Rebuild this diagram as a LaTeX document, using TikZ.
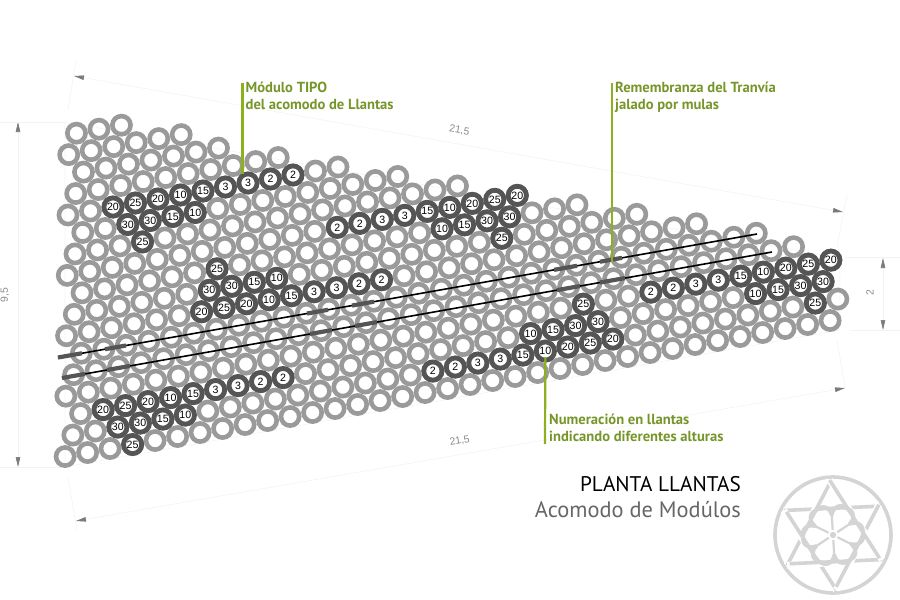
\documentclass[tikz,border=0pt]{standalone}
\usepackage{fontspec}
\setmainfont{Liberation Sans}
\newfontfamily\notafont{PT Sans}
\usetikzlibrary{positioning,arrows.meta}
\definecolor{llantagris}{HTML}{9A9A9A}
\definecolor{llantaosc}{HTML}{555555}
\definecolor{verde}{HTML}{76962A}
\definecolor{verdelinea}{HTML}{8DB01E}
\definecolor{cotalinea}{HTML}{F3F3F3}
\definecolor{cotatip}{HTML}{7A7A7A}
\definecolor{cotatxt}{HTML}{8A8A8A}
\definecolor{logogris}{HTML}{D4D4D4}

\begin{document}
\begin{tikzpicture}[x=1pt,y=-1pt,
    llanta/.style={circle,draw=llantagris,line width=4.6pt,minimum size=18.2pt,inner sep=0pt,outer sep=0pt},
    modulo/.style={llanta,draw=llantaosc,line width=4.8pt,minimum size=18.2pt,fill=white,font=\fontsize{10.6}{11}\selectfont},
    cota/.style={draw=cotalinea,line width=0.6pt,{Stealth[length=10pt,width=4.5pt,inset=0pt,color=cotatip]}-{Stealth[length=10pt,width=4.5pt,inset=0pt,color=cotatip]}},
    guia/.style={draw=cotalinea,line width=0.6pt},
    cotanum/.style={text=cotatxt,font=\fontsize{10.4}{11}\selectfont,inner sep=0pt},
    lider/.style={draw=verdelinea,line width=2.2pt},
    nota/.style={text=verde,font=\notafont\bfseries\fontsize{14.6}{17.5}\selectfont,align=left,inner sep=0pt,anchor=north west},
    barra/.style={draw=llantaosc,line width=4.2pt},
    eje/.style={draw=black,line width=1.6pt},
    logo/.style={draw=logogris,line width=3.6pt}]
  \useasboundingbox (0,0) rectangle (900,600);

  \coordinate (esqA) at (65,122);
  \coordinate (esqB) at (840,258);
  \coordinate (esqC) at (840,330);
  \coordinate (esqD) at (65,467);
  \draw[guia] (esqA) -- (esqB) -- (esqC) -- (esqD) -- cycle;

  \draw[cota] (74,76)   -- node[pos=.5,cotanum,rotate=-10,above=9pt] (largoA) {21,5} (843,212);
  \draw[cota] (76,521)  -- node[pos=.5,cotanum,rotate=10,above=9pt]  (largoB) {21,5} (845,388);
  \draw[cota] (18,122)  -- (18,467);
  \draw[cota] (883,258) -- (883,330);
  \node[cotanum,rotate=90] (ancho) at (5,295)   {9,5};
  \node[cotanum,rotate=90] (paso)  at (870,293) {2};
  \draw[guia] (76,60)  -- (68,110);
  \draw[guia] (847,195) -- (837,247);
  \draw[guia] (68,477) -- (77,530);
  \draw[guia] (837,340) -- (845,387);
  \draw[guia] (0,122)  -- (esqA);
  \draw[guia] (0,467)  -- (esqD);
  \draw[guia] (845,257) -- (900,257);
  \draw[guia] (850,330) -- (900,330);

  \begin{scope}[shift={(113pt,-207pt)},x={(22.5pt,4pt)},y={(14.76pt,-17.46pt)}]
    \foreach \j/\a/\b in {-4/1/3,-3/0/5,-2/0/6,-1/-1/8,0/-2/10,1/-2/12,2/-3/14,3/-4/16,4/-4/18,
                          5/-5/20,6/-6/22,7/-6/24,8/-7/25,9/-8/26,10/-8/25,11/-9/25,12/-10/24}
      \foreach \i in {\a,...,\b}
        \node[llanta] (l-\j-\i) at (\i,\j) {};
    \foreach \j/\a/\nums in {0/0/{20,25,20,10,15,3,3,2,2},   1/0/{30,30,15,10},  2/0/{25},
                             3/8/{2,2,3,3,15,10,20,25,20},   4/12/{10,15,30,30}, 5/14/{25},
                             6/0/{20,25,20,10,15,3,3,2,2},   5/1/{30,30,15,10},  4/2/{25},
                             10/-7/{20,25,20,10,15,3,3,2,2}, 11/-7/{30,30,15,10},12/-7/{25},
                             11/7/{2,2,3,3,15,10,20,25,20},  10/12/{10,15,30,30},9/15/{25},
                             9/18/{2,2,3,3,15,10,20,25,20},  10/22/{10,15,30,30},11/24/{25}}
      \foreach \t [count=\i from \a] in \nums
        \node[modulo] (m-\j-\i) at (\i,\j) {\t};
  \end{scope}

  \coordinate (supA) at (58,357.5);
  \coordinate (supB) at (757,234);
  \coordinate (infA) at (62,378);
  \coordinate (infB) at (772,252);
  \draw[eje] (supA) -- (supB);
  \draw[eje] (infA) -- (infB);
  \foreach \ini/\fin in {58/82,105/126,307/328,352/374,554/577,600/622}
    \draw[barra] (\ini,{357.5-(\ini-58)*0.1767}) -- (\fin,{357.5-(\fin-58)*0.1767});
  \foreach \ini/\fin in {62/85,107/130,310/332,355/377,557/580,600/625}
    \draw[barra] (\ini,{378-(\ini-62)*0.1775}) -- (\fin,{378-(\fin-62)*0.1775});

  \coordinate (tipo)    at (242.5,83);
  \coordinate (tranvia) at (612,83);
  \coordinate (tranviafin) at (612,262);
  \coordinate (numer)   at (545,444);
  \node[nota] (tipotxt)    at (245.5,81.5)  {Módulo TIPO\\del acomodo de Llantas};
  \node[nota] (tranviatxt) at (615,81.5)  {Remembranza del Tranvía\\jalado por mulas};
  \node[nota] (numertxt)   at (549,413.5) {Numeración en llantas\\indicando diferentes alturas};
  \draw[lider] (tipo) -- (tipo |- m-0-6.north);
  \draw[lider] (tranvia) -- (tranviafin);
  \draw[lider] (numer) -- ([yshift=-6pt]m-11-12.center);

  \node[anchor=east,inner sep=0pt,font=\notafont\fontsize{21.2}{22}\selectfont] (titulo) at (741,484) {PLANTA LLANTAS};
  \node[anchor=east,inner sep=0pt,text=llantaosc!90!white,font=\notafont\fontsize{22.4}{24}\selectfont] (subtitulo) at (741,510) {Acomodo de Modúlos};

  \coordinate (sello) at (833,535);
  \draw[logo] (sello) circle (58);
  \begin{scope}[shift={(sello)}]
    \foreach \ang in {0,60,...,300} {
      \draw[white,line width=7pt] (-33.5-\ang:55) -- (-153.5-\ang:55);
      \draw[logo] (-33.5-\ang:52) -- (-153.5-\ang:55);
    }
    \foreach \ang in {0,60,...,300} {
      \begin{scope}[rotate=\ang+3.5]
        \draw[logo,line width=2.2pt] (0,-5) -- (0,-24);
        \draw[logo,line width=3.6pt,line cap=round] (-18,-23) .. controls (-12,-31) and (-3,-31) .. (0,-20);
        \draw[logo,line width=3.6pt,line cap=round] (18,-23) .. controls (12,-31) and (3,-31) .. (0,-20);
      \end{scope}
    }
    \fill[logogris] (0,0) circle (3.2);
  \end{scope}
\end{tikzpicture}
\end{document}
